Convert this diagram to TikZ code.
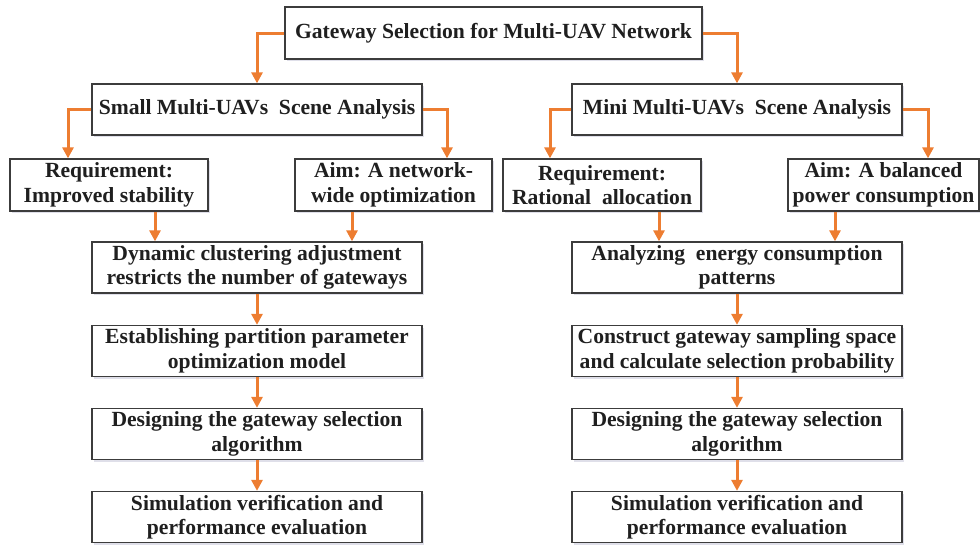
\documentclass[tikz,border=0pt]{standalone}
\usepackage{fontspec}
\setmainfont{Liberation Serif}
\usetikzlibrary{arrows.meta,shadows}
\definecolor{arrorange}{RGB}{237,125,49}
\definecolor{boxline}{RGB}{60,60,60}
\tikzset{
  box/.style={draw=boxline, line width=1.3pt, fill=white, align=center,
    inner sep=0pt, font=\fontsize{21.6}{24.5}\selectfont\bfseries, text=black!88,
    drop shadow={shadow xshift=1.5pt, shadow yshift=-2pt, fill=blue!20!gray!35, opacity=0.6}},
  link/.style={draw=arrorange, line width=3pt,
    -{Triangle[length=11pt,width=11pt]}}
}
\begin{document}
\begin{tikzpicture}[x=1pt,y=-1pt]
\useasboundingbox (0,0) rectangle (980,544);
\node[box, minimum width=417pt, minimum height=52pt] (top) at (493.5,33) {Gateway Selection for Multi-UAV Network};
\node[box, minimum width=330pt, minimum height=51pt] (small) at (257,109.5) {Small Multi-UAVs\ \ Scene Analysis};
\node[box, minimum width=330pt, minimum height=51pt] (mini) at (737,109.5) {Mini Multi-UAVs\ \ Scene Analysis};
\node[box, minimum width=198pt, minimum height=52pt] (req1) at (109,185) {Requirement:\\Improved stability};
\node[box, minimum width=197pt, minimum height=52pt] (aim1) at (393.5,185) {Aim: A network-\\wide optimization};
\node[box, minimum width=198pt, minimum height=52pt] (req2) at (602,185) {Requirement:\\Rational\ \ allocation};
\node[box, minimum width=191pt, minimum height=52pt] (aim2) at (883.5,185) {Aim: A balanced\\power consumption};
\node[box, minimum width=330pt, minimum height=51pt] (dyn) at (257,267.5) {Dynamic clustering adjustment\\restricts the number of gateways};
\node[box, minimum width=330pt, minimum height=51pt] (est) at (257,351) {Establishing partition parameter\\optimization model};
\node[box, minimum width=330pt, minimum height=51pt] (des1) at (257,434) {Designing the gateway selection\\algorithm};
\node[box, minimum width=330pt, minimum height=51pt] (sim1) at (257,517) {Simulation verification and\\performance evaluation};
\node[box, minimum width=330pt, minimum height=51pt] (ana) at (737,267.5) {Analyzing\ \ energy consumption\\patterns};
\node[box, minimum width=330pt, minimum height=51pt] (con) at (737,351) {Construct gateway sampling space\\and calculate selection probability};
\node[box, minimum width=330pt, minimum height=51pt] (des2) at (737,434) {Designing the gateway selection\\algorithm};
\node[box, minimum width=330pt, minimum height=51pt] (sim2) at (737,517) {Simulation verification and\\performance evaluation};
\draw[link] (top.west) -| (small.north);
\draw[link] (top.east) -| (mini.north);
\draw[link] (small.west) -| ([xshift=-41pt]req1.north);
\draw[link] (small.east) -| ([xshift=53.5pt]aim1.north);
\draw[link] (mini.west) -| ([xshift=-52pt]req2.north);
\draw[link] (mini.east) -| ([xshift=44.5pt]aim2.north);
\draw[link] ([xshift=46pt]req1.south) -- ([xshift=46pt]req1.south |- dyn.north);
\draw[link] ([xshift=-41.5pt]aim1.south) -- ([xshift=-41.5pt]aim1.south |- dyn.north);
\draw[link] ([xshift=57pt]req2.south) -- ([xshift=57pt]req2.south |- ana.north);
\draw[link] ([xshift=-48.5pt]aim2.south) -- ([xshift=-48.5pt]aim2.south |- ana.north);
\draw[link] (dyn) -- (est);
\draw[link] (est) -- (des1);
\draw[link] (des1) -- (sim1);
\draw[link] (ana) -- (con);
\draw[link] (con) -- (des2);
\draw[link] (des2) -- (sim2);
\end{tikzpicture}
\end{document}
